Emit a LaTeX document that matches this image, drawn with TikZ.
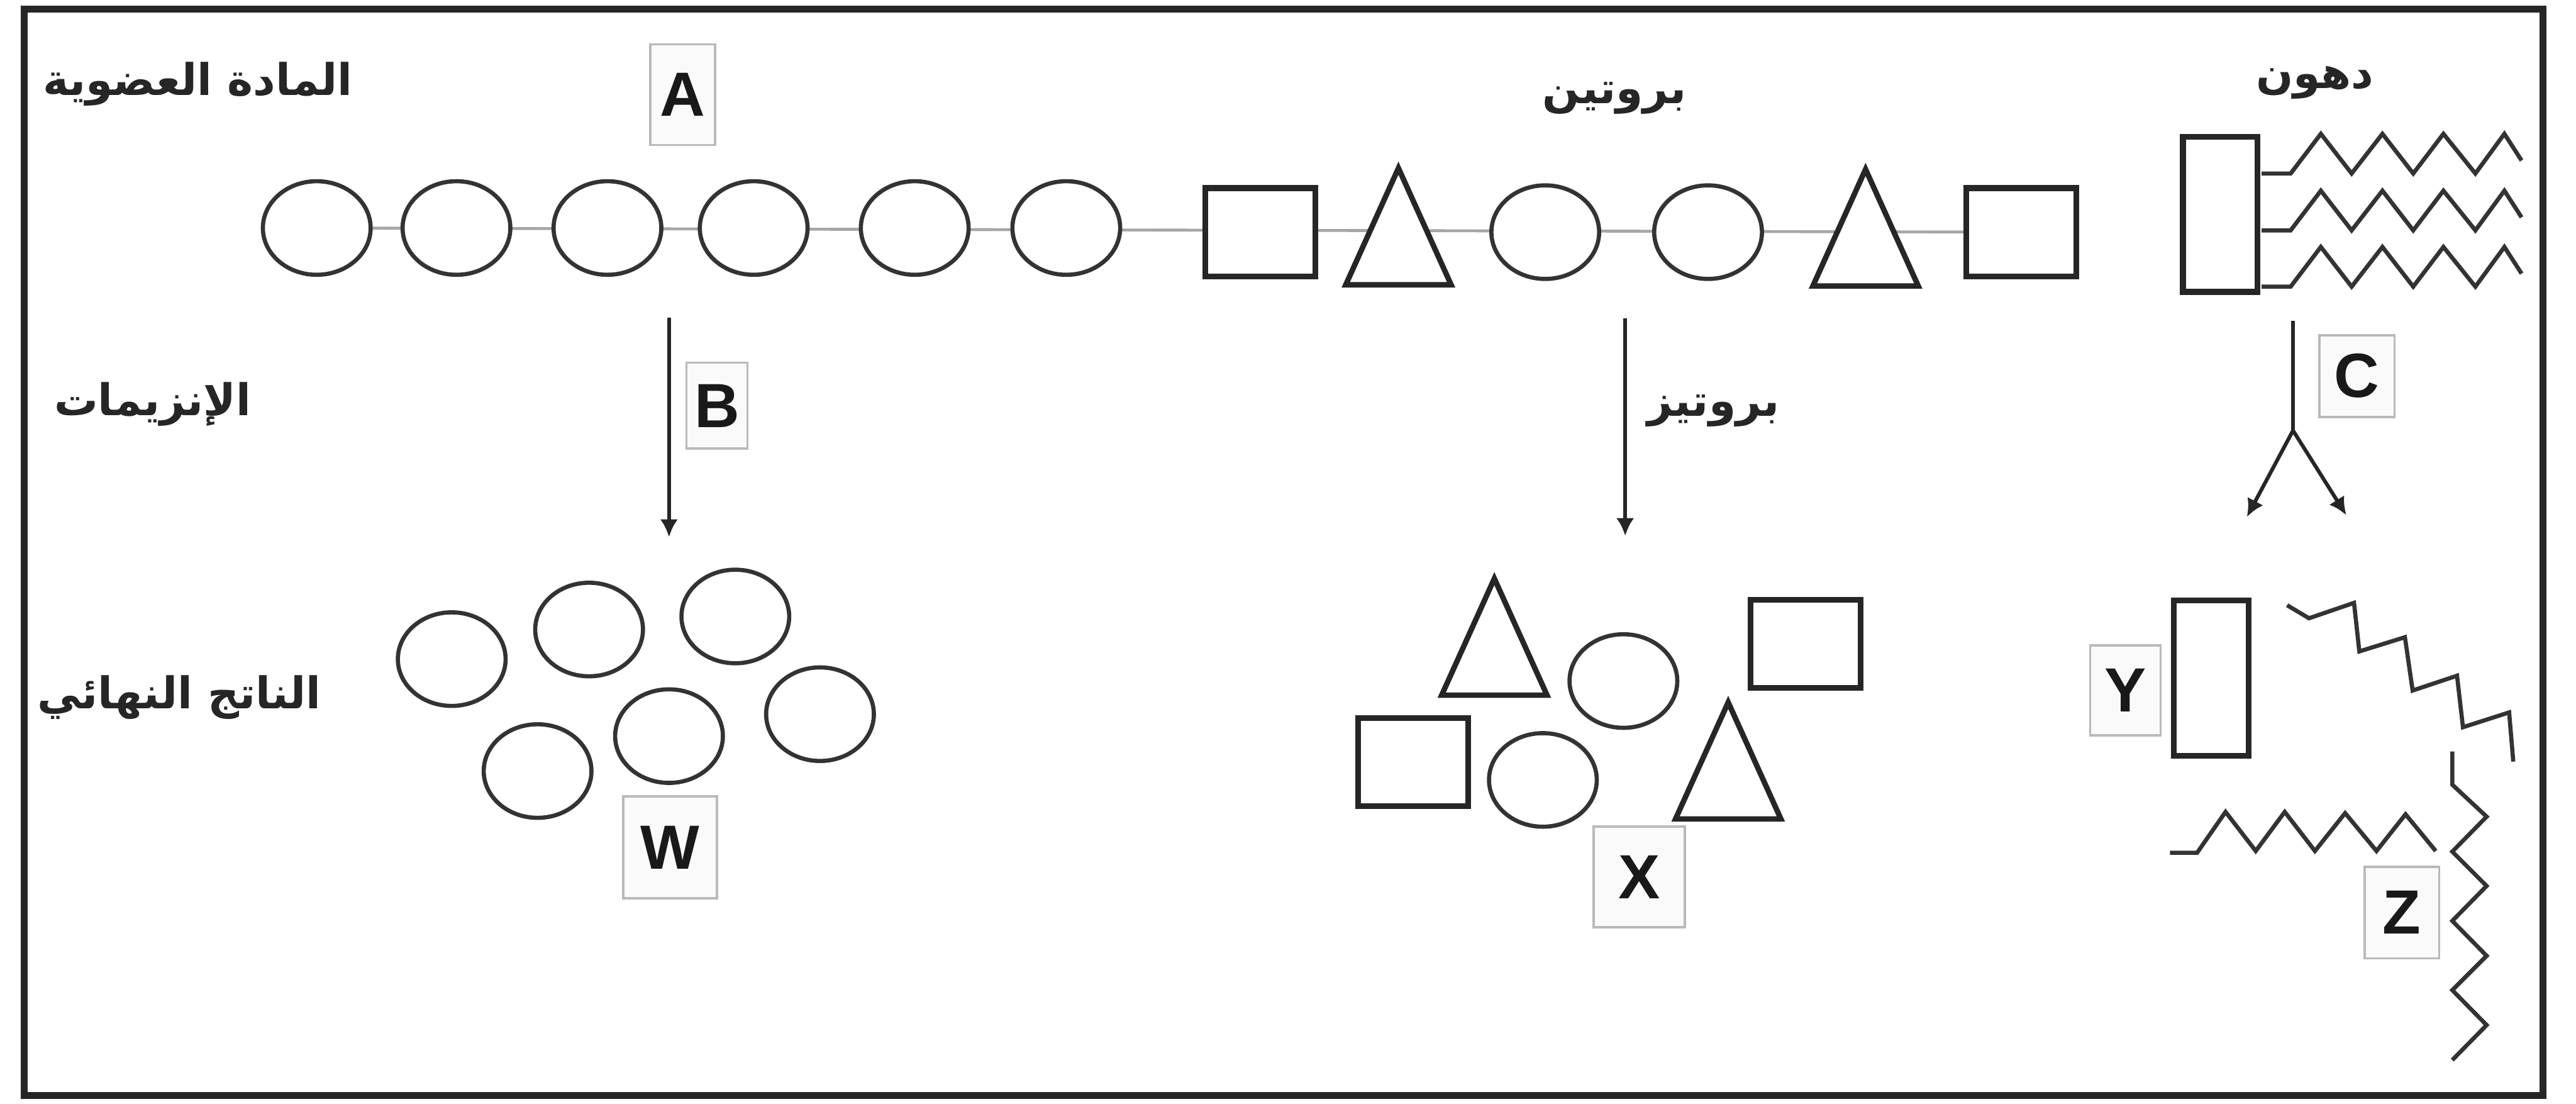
\documentclass[tikz,border=0pt]{standalone}
\usepackage{fontspec}
\setmainfont{Liberation Sans}
\newfontfamily\arabicfont[Script=Arabic]{DejaVu Sans}
\TeXXeTstate=1
\usetikzlibrary{shapes.geometric,arrows.meta,backgrounds,positioning}

\begin{document}
\begin{tikzpicture}[
    x=1cm, y=-1cm,
    unit/.style={ellipse, draw=black!80, line width=2pt, fill=white, minimum width=1.82cm, minimum height=1.58cm, inner sep=0pt},
    block/.style={rectangle, draw=black!85, line width=2.8pt, fill=white, minimum width=1.86cm, minimum height=1.49cm, inner sep=0pt},
    tallblock/.style={rectangle, draw=black!85, line width=2.8pt, fill=white, minimum width=1.26cm, minimum height=2.62cm, inner sep=0pt},
    tri/.style={isosceles triangle, isosceles triangle stretches, shape border rotate=90, draw=black!85, line width=2.6pt, fill=white, minimum width=1.78cm, minimum height=1.97cm, inner sep=0pt, anchor=apex},
    bond/.style={draw=gray!70, line width=1.4pt},
    tail/.style={draw=black!80, line width=2pt},
    flow/.style={draw=black!85, line width=1.8pt, -{Latex[length=3mm,width=3mm]}},
    tag/.style={draw=gray!55, line width=1.1pt, fill=gray!4, inner sep=0pt, text=black!90, font=\fontsize{30}{30}\selectfont\bfseries},
    word/.style={text=black!85, font=\fontsize{21}{25}\selectfont\arabicfont\bfseries}
]
    \useasboundingbox (0,0) rectangle (43.51,18.64);
    \draw[line width=3.4pt, black!85] (0.41,0.15) rectangle (42.95,18.50);

    % Labels
    \node[word] (organic) at (3.34,1.42) {\beginR المادة العضوية\endR};
    \node[word] (protein) at (27.27,1.66) {\beginR بروتين\endR};
    \node[word] (fat)     at (39.10,1.40) {\beginR دهون\endR};
    \node[word] (enzymes) at (2.58,6.83) {\beginR الإنزيمات\endR};
    \node[word] (product) at (3.03,11.78) {\beginR الناتج النهائي\endR};
    \node[word, anchor=west] (protease) at (27.70,6.94) {\beginR بروتيز\endR};

    % Chain
    \foreach \x [count=\i] in {5.35,7.71,10.26,12.73,15.45,18.01}
        \node[unit] (m\i) at (\x,3.85) {};
    \node[block] (sq1) at (21.29,3.92) {};
    \node[tri] (t1) at (23.62,2.72) {};
    \node[unit] (m7) at (26.10,3.92) {};
    \node[unit] (m8) at (28.85,3.92) {};
    \node[tri] (t2) at (31.51,2.74) {};
    \node[block] (sq2) at (34.14,3.92) {};
    \begin{scope}[on background layer]
        \draw[bond] (m1) -- (sq2);
    \end{scope}

    % Fat
    \node[tallblock] (lipid) at (37.50,3.62) {};
    \foreach \y in {2.93,3.89,4.84}
        \draw[tail] (38.20,\y) -- ++(0.49,0) -- ++(0.51,-0.67) -- ++(0.52,0.67)
            -- ++(0.52,-0.67) -- ++(0.52,0.67) -- ++(0.51,-0.67) -- ++(0.54,0.67)
            -- ++(0.49,-0.67) -- ++(0.29,0.45);

    % Arrows
    \coordinate (b0) at (11.30,5.36);
    \coordinate (b1) at (11.30,9.07);
    \draw[flow] (b0) -- (b1);
    \coordinate (p0) at (27.45,5.38);
    \coordinate (p1) at (27.45,9.05);
    \draw[flow] (p0) -- (p1);
    \coordinate (c0) at (38.73,5.42);
    \coordinate (c1) at (38.73,7.27);
    \coordinate (c2) at (37.95,8.73);
    \coordinate (c3) at (39.63,8.70);
    \draw[draw=black!85, line width=1.8pt] (c0) -- (c1);
    \draw[flow] (c1) -- (c2);
    \draw[flow] (c1) -- (c3);

    % Final product W
    \foreach \x/\y [count=\i] in {7.63/11.13, 9.95/10.63, 12.42/10.41, 11.30/12.43, 13.85/12.06, 9.08/13.02}
        \node[unit] (w\i) at (\x,\y) {};

    % Final product X
    \node[tri] (xt1) at (25.24,9.65) {};
    \node[unit] (xe1) at (27.42,11.50) {};
    \node[block] (xr1) at (30.50,10.87) {};
    \node[block] (xr2) at (23.87,12.87) {};
    \node[unit] (xe2) at (26.06,13.17) {};
    \node[tri] (xt2) at (29.19,11.74) {};

    % Final product Y and Z
    \node[tallblock] (glycerol) at (37.35,11.45) {};
    \draw[tail] (38.63,10.22) -- (39.00,10.44) -- (39.76,10.18) -- (39.85,11.00) -- (40.62,10.76)
        -- (40.75,11.66) -- (41.50,11.41) -- (41.60,12.28) -- (42.38,12.03) -- (42.45,12.86);
    \draw[tail] (36.65,14.40) -- (37.11,14.40) -- (37.59,13.71) -- (38.10,14.37) -- (38.59,13.71)
        -- (39.10,14.37) -- (39.61,13.73) -- (40.14,14.37) -- (40.63,13.75) -- (41.14,14.37);
    \draw[tail] (41.42,12.69) -- (41.42,13.25) -- (42.00,13.79) -- (41.42,14.38) -- (42.00,14.96)
        -- (41.42,15.55) -- (42.00,16.14) -- (41.42,16.72) -- (42.00,17.31) -- (41.42,17.90);

    % Letters
    \foreach \n/\lab/\x/\y/\w/\h in {tA/A/11.53/1.60/1.09/1.70, tB/B/12.11/6.85/1.03/1.45,
            tC/C/39.81/6.35/1.27/1.38, tW/W/11.32/14.31/1.58/1.72, tX/X/27.69/14.81/1.54/1.70,
            tY/Y/35.90/11.66/1.19/1.52, tZ/Z/40.57/15.41/1.26/1.55}
        \node[tag, minimum width=\w cm, minimum height=\h cm] (\n) at (\x,\y) {\lab};
\end{tikzpicture}
\end{document}
